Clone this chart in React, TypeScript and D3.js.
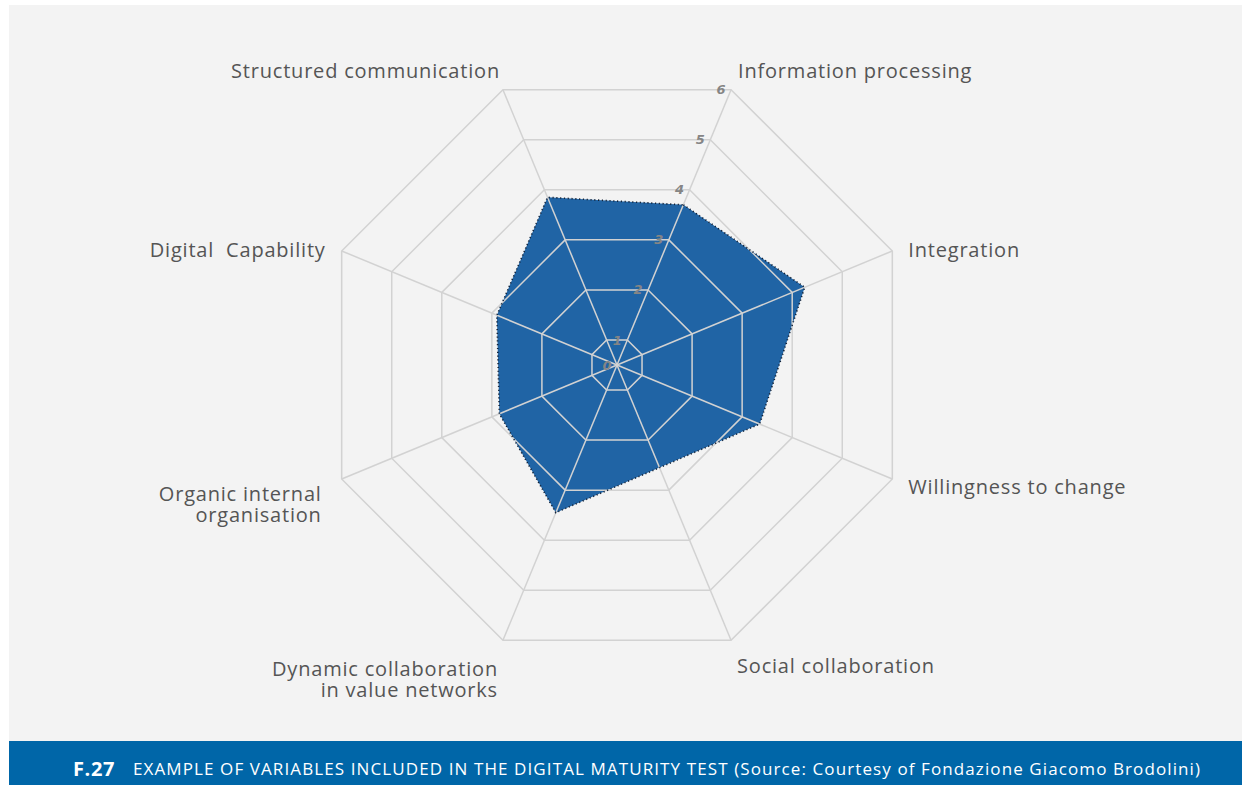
import React from "react";
import * as d3 from "d3";

// radar axes, clockwise from the top-right spoke
const axisNames = [
  ["Information processing"],
  ["Integration"],
  ["Willingness to change"],
  ["Social collaboration"],
  ["Dynamic collaboration", "in value networks"],
  ["Organic internal", "organisation"],
  ["Digital  Capability"],
  ["Structured communication"],
];
const scores = [3.7, 4.25, 3.35, 2.55, 3.45, 2.85, 2.9, 3.85];
const levels = [1, 2, 3, 4, 5, 6];
const tickLabels = ["0", "1", "2", "3", "4", "5", "6"];

const captionId = "F.27";
const captionText =
  "EXAMPLE OF VARIABLES INCLUDED IN THE DIGITAL MATURITY TEST (Source: Courtesy of Fondazione Giacomo Brodolini)";

// label nudges from the outer vertex of each spoke (first line centre)
const labelNudge: [number, number][] = [
  [7, -19],
  [16, -1],
  [16, 8],
  [6, 26],
  [-5, 29],
  [-20, 15],
  [-16, -1],
  [-3, -19],
];

const W = 1242;
const H = 785;
const cx = 617;
const cy = 365;
const R = 298;

export default function App() {
  const n = axisNames.length;
  const angle = d3
    .scaleLinear()
    .domain([0, n])
    .range([Math.PI / 8, Math.PI / 8 + 2 * Math.PI]);
  const r = d3.scaleLinear().domain([0.5, 6]).range([0, R]).clamp(true);

  const pt = (i: number, v: number): [number, number] => {
    const a = angle(i);
    const rr = r(v);
    return [cx + rr * Math.sin(a), cy - rr * Math.cos(a)];
  };

  const radial = d3
    .lineRadial<number>()
    .angle((_, i) => angle(i))
    .curve(d3.curveLinearClosed);

  const gridPath = (lv: number) =>
    radial.radius(() => r(lv))(d3.range(n) as number[]) || "";
  const dataPath = radial.radius((d) => r(d))(scores) || "";

  const fontLabel = "'Open Sans', 'Noto Sans', sans-serif";

  return (
    <div style={{ position: "fixed", left: 0, top: 0, width: W, height: H, background: "#fff" }}>
      <svg width={W} height={H} style={{ display: "block" }}>
        <rect x={9} y={5} width={W - 9} height={736} fill="#f3f3f3" />

        <g transform={`translate(${cx},${cy})`}>
          <path d={dataPath} fill="#2064a5" stroke="none" />
          {levels.map((lv) => (
            <path key={lv} d={gridPath(lv)} fill="none" stroke="#d2d2d2" strokeWidth={1.5} />
          ))}
        </g>
        {axisNames.map((_, i) => {
          const [x2, y2] = pt(i, 6);
          return <line key={i} x1={cx} y1={cy} x2={x2} y2={y2} stroke="#d2d2d2" strokeWidth={1.5} />;
        })}
        <g transform={`translate(${cx},${cy})`}>
          <path
            d={dataPath}
            fill="none"
            stroke="#14243a"
            strokeWidth={1.6}
            strokeDasharray="1.2,2.6"
          />
        </g>

        {tickLabels.map((t, k) => {
          const [x, y] = pt(0, k);
          return (
            <text
              key={t}
              x={x - 10}
              y={y}
              dy="0.35em"
              textAnchor="middle"
              fontFamily="'DejaVu Sans', sans-serif"
              fontStyle="italic"
              fontWeight="bold"
              fontSize={13}
              fill="#858585"
            >
              {t}
            </text>
          );
        })}

        {axisNames.map((lines, i) => {
          const [vx, vy] = pt(i, 6);
          const right = Math.sin(angle(i)) > 0;
          const [dx, dy] = labelNudge[i];
          return lines.map((ln, j) => (
            <text
              key={`${i}-${j}`}
              x={vx + dx}
              y={vy + dy + j * 21}
              dy="0.35em"
              textAnchor={right ? "start" : "end"}
              fontFamily={fontLabel}
              fontSize={20}
              letterSpacing={0.8}
              fill="#555"
              style={{ whiteSpace: "pre" }}
            >
              {ln}
            </text>
          ));
        })}

        <rect x={9} y={741} width={W - 9} height={44} fill="#0066a8" />
        <text
          x={73}
          y={776}
          fontFamily="'Open Sans', sans-serif"
          fontWeight="bold"
          fontSize={20}
          letterSpacing={0.6}
          fill="#fff"
        >
          {captionId}
        </text>
        <text
          x={133}
          y={775}
          fontFamily="'Open Sans', sans-serif"
          fontSize={17}
          fill="#fff"
          textLength={1067}
        >
          {captionText}
        </text>
      </svg>
    </div>
  );
}
